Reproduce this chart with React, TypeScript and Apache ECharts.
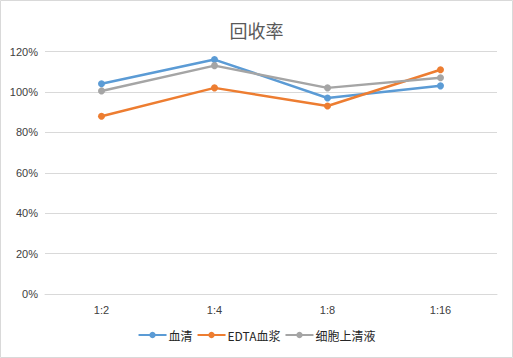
import React, { useEffect, useRef } from "react";
import * as echarts from "echarts";

const categories = ["1:2", "1:4", "1:8", "1:16"];
const serumValues = [104, 116, 97, 103];
const edtaValues = [88, 102, 93, 111];
const supernatantValues = [100.5, 113, 102, 107];
const seriesNames = ["血清", "EDTA血浆", "细胞上清液"];
const colors = ["#5B9BD5", "#ED7D31", "#A5A5A5"];

export default function App() {
  const ref = useRef<HTMLDivElement>(null);
  useEffect(() => {
    document.body.style.margin = "0";
    const chart = echarts.init(ref.current!, null, { renderer: "svg" });
    const data = [serumValues, edtaValues, supernatantValues];
    chart.setOption({
      animation: false,
      backgroundColor: "#ffffff",
      color: colors,
      title: {
        text: "回收率",
        left: "center",
        top: 16,
        textStyle: {
          fontFamily: "Noto Sans CJK SC",
          fontSize: 18,
          fontWeight: "normal",
          color: "#595959",
        },
      },
      grid: { left: 45, right: 16, top: 51.5, bottom: 64 },
      legend: {
        bottom: 12,
        left: "center",
        itemGap: 4,
        itemWidth: 28,
        itemHeight: 8,
        data: seriesNames,
        textStyle: { fontFamily: "Noto Sans CJK SC", fontSize: 12, color: "#262626", padding: [0, 0, 0, -3] },
      },
      xAxis: {
        type: "category",
        data: categories,
        axisLine: { show: true, lineStyle: { color: "#D9D9D9" } },
        axisTick: { show: false },
        axisLabel: { color: "#404040", fontSize: 11, margin: 10, fontFamily: "Liberation Sans" },
      },
      yAxis: {
        type: "value",
        min: 0,
        max: 120,
        interval: 20,
        axisLine: { show: false },
        axisTick: { show: false },
        splitLine: { lineStyle: { color: "#D9D9D9" } },
        axisLabel: { formatter: "{value}%", color: "#404040", fontSize: 11, margin: 7, fontFamily: "Liberation Sans" },
      },
      series: seriesNames.map((name, i) => ({
        name,
        type: "line",
        data: data[i],
        symbol: "circle",
        symbolSize: 7,
        lineStyle: { width: 2.5, color: colors[i] },
        itemStyle: { color: colors[i] },
      })),
      graphic: [
        {
          type: "rect",
          shape: { x: 0.5, y: 0.5, width: 512, height: 357 },
          style: { fill: "none", stroke: "#D9D9D9", lineWidth: 1 },
          silent: true,
        },
      ],
    });
    return () => chart.dispose();
  }, []);
  return <div ref={ref} style={{ width: 513, height: 358 }} />;
}
